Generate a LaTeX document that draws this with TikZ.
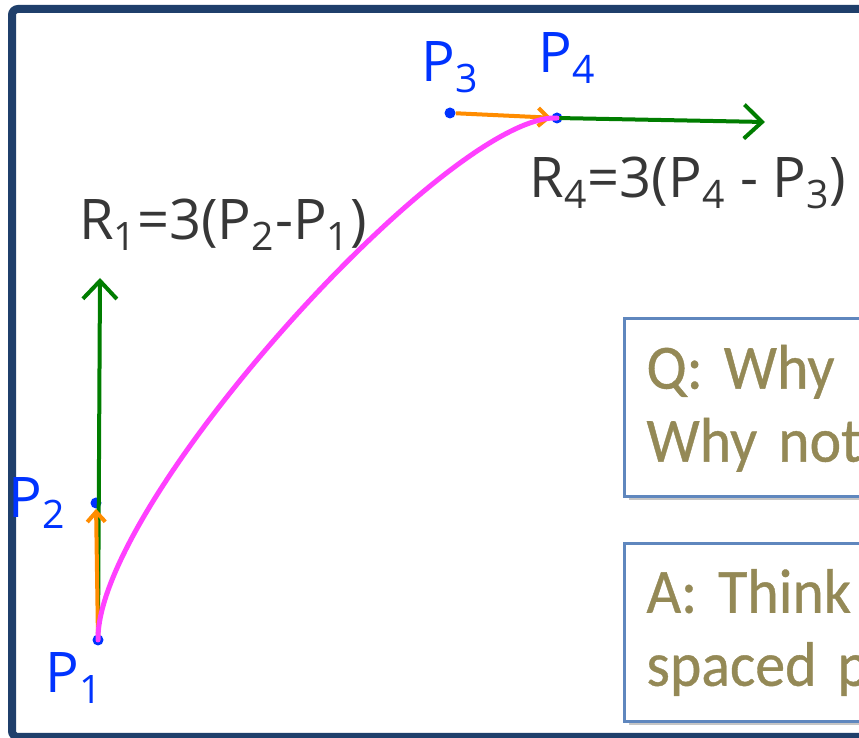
\documentclass[tikz,border=0pt]{standalone}
\usepackage{fontspec}
\setmainfont{Carlito}
\newfontfamily\boxfont{Carlito}[FakeStretch=0.95, FakeBold=0.6, WordSpace=0.8]
\newfontfamily\handfont{Open Sans}
\usetikzlibrary{arrows.meta,positioning,shadows}
\definecolor{frameblue}{RGB}{31,63,107}
\definecolor{pointblue}{RGB}{0,51,255}
\definecolor{tangentgreen}{RGB}{0,125,0}
\definecolor{handorange}{RGB}{255,140,0}
\definecolor{curvemagenta}{RGB}{255,64,255}
\definecolor{inkgray}{RGB}{55,55,55}
\definecolor{boxolive}{RGB}{148,137,86}
\definecolor{boxedge}{RGB}{95,135,190}

\begin{document}
\frenchspacing
\begin{tikzpicture}[
        x=0.5pt, y=-0.5pt,
        pt/.style={circle, fill=pointblue, inner sep=0pt, minimum size=5.5pt},
        plabel/.style={text=pointblue, font=\handfont\fontsize{28}{28}\selectfont, inner sep=0pt},
        eqlabel/.style={text=inkgray, font=\handfont\fontsize{28}{28}\selectfont, inner sep=0pt},
        tangent/.style={tangentgreen, line width=2pt, -{Straight Barb[length=9pt, width=17pt, line width=2pt]}},
        ctrl/.style={handorange, line width=2pt, -{Straight Barb[length=5pt, width=9pt, line width=2pt]}},
        curve/.style={curvemagenta, line width=2.5pt, line cap=round},
        qbox/.style={draw=boxedge, line width=1.5pt, fill=white, text=boxolive,
            drop shadow={shadow xshift=2pt, shadow yshift=-2pt, opacity=0.45, fill=gray},
            font=\boxfont\fontsize{31.5}{36.5}\selectfont, align=left, anchor=north west,
            minimum width=160pt, minimum height=89pt, text width=140pt, inner xsep=11pt}
    ]
    \useasboundingbox (0,0) rectangle (859,738);
    \clip (0,0) rectangle (859,738);
    \fill[white] (0,0) rectangle (859,738);

    % Frame
    \draw[frameblue, line width=4pt, rounded corners=3pt] (900,9) -- (12,9) -- (12,737) -- (900,737);

    % Control points
    \node[pt] (p1) at (98,640) {};
    \node[pt] (p2) at (96,503) {};
    \node[pt] (p3) at (450,113) {};
    \node[pt] (p4) at (557,118) {};
    \coordinate (r1) at (100,278);
    \coordinate (r4) at (765,122);

    % Tangents
    \draw[tangent] (p1.center) -- (r1);
    \draw[tangent] (p4.center) -- (r4);
    \draw[ctrl] (p1) -- (p2);
    \draw[ctrl] (p3) -- (p4);

    % Curve
    \draw[curve] (p1.center) .. controls (p2.center) and (p3.center) .. (p4.center);

    % Labels
    \node[plabel, below=3pt of p1, xshift=-12pt] (lp1) {P\textsubscript{1}};
    \node[plabel, left=12pt of p2] (lp2) {P\textsubscript{2}};
    \node[plabel, above=7pt of p3] (lp3) {P\textsubscript{3}};
    \node[plabel, above=14pt of p4, xshift=5pt] (lp4) {P\textsubscript{4}};
    \node[eqlabel] (eq1) at (223,225) {R\textsubscript{1}=3(P\textsubscript{2}-P\textsubscript{1})};
    \node[eqlabel] (eq4) at (688,183) {R\textsubscript{4}=3(P\textsubscript{4} - P\textsubscript{3})};

    % Question and answer
    \node[qbox] (q) at (623,317) {Q: Why ‘\\Why not};
    \node[qbox] (a) at (623,542) {A: Think\\spaced p};
\end{tikzpicture}
\end{document}
